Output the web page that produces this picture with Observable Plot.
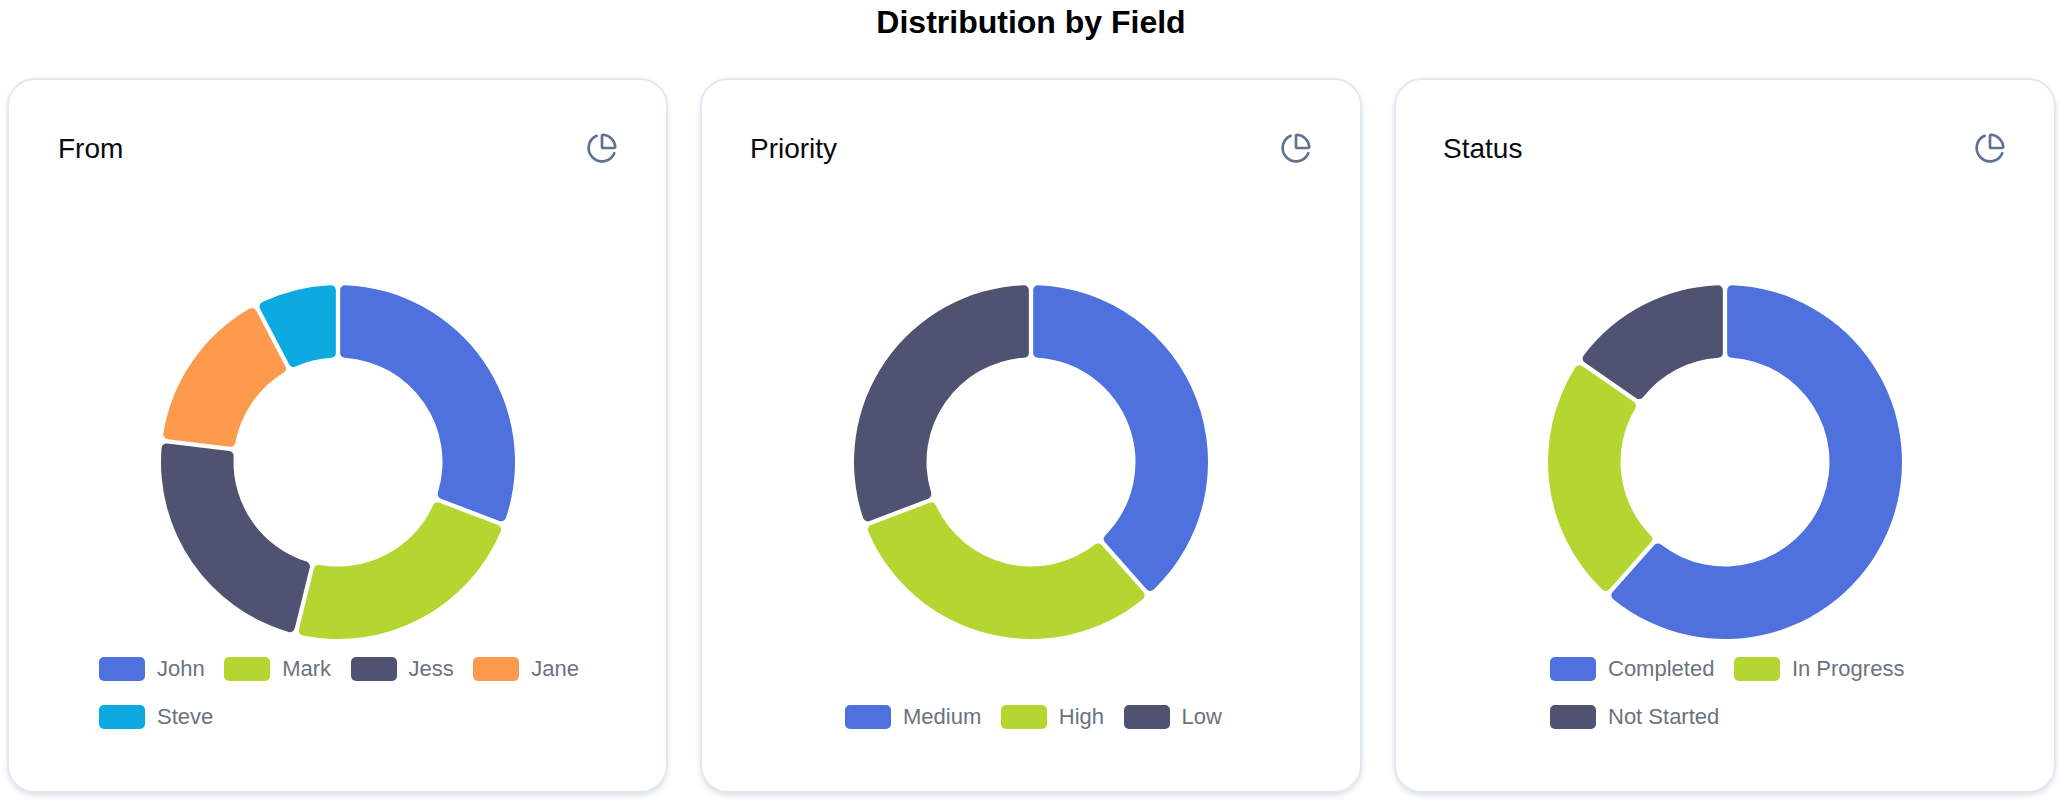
<!DOCTYPE html>
<html>
<head>
<meta charset="utf-8">
<script src="https://cdn.jsdelivr.net/npm/d3@7"></script>
<script src="https://cdn.jsdelivr.net/npm/@observablehq/plot@0.6"></script>
<style>
html,body{margin:0;padding:0;background:#fff;width:2060px;height:802px;overflow:hidden;font-family:"Liberation Sans",Arial,sans-serif}
h1{position:absolute;left:0;width:2062px;top:5px;margin:0;text-align:center;font-size:32px;line-height:34px;font-weight:700;color:#000}
.card{position:absolute;top:78px;height:715px;box-sizing:border-box;background:#fff;border:2px solid #e2e8f0;border-radius:28px;box-shadow:0 3px 5px rgba(148,163,184,.3)}
.name{position:absolute;left:48px;top:52px;font-size:28px;line-height:34px;color:#0a0a14}
.icon{position:absolute;right:48px;top:52px;width:32px;height:32px;fill:none;stroke:#5f7290;stroke-width:2;stroke-linecap:round;stroke-linejoin:round}
.plot{position:absolute;left:0;top:0}
.legend{position:absolute;bottom:62.5px}
.row{display:flex;column-gap:19.5px;height:24px;margin-top:24px;align-items:center}
.item{display:flex;align-items:center;font-size:22px;color:#6b7280;line-height:24px}
.chip{width:46px;height:24px;border-radius:5px;margin-right:12px}
</style>
</head>
<body>
<h1>Distribution by Field</h1>
<script>
const titles = ["From", "Priority", "Status"];
const fromNames = ["John", "Mark", "Jess", "Jane", "Steve"];
const fromValues = [4, 3, 3, 2, 1];
const fromColors = ["#4f71de", "#b5d631", "#505271", "#fe9a4d", "#0daae2"];
const priorityNames = ["Medium", "High", "Low"];
const priorityValues = [5, 4, 4];
const priorityColors = ["#4f71de", "#b5d631", "#505271"];
const statusNames = ["Completed", "In Progress", "Not Started"];
const statusValues = [8, 3, 2];
const statusColors = ["#4f71de", "#b5d631", "#505271"];
const fromRows = [["John", "Mark", "Jess", "Jane"], ["Steve"]];
const priorityRows = [["Medium", "High", "Low"]];
const statusRows = [["Completed", "In Progress"], ["Not Started"]];

const layout = [
  {card: 7, w: 661, centre: 338, legend: 99},
  {card: 700, w: 662, centre: 1031, legend: 845},
  {card: 1394, w: 662, centre: 1725, legend: 1550}
];
const sets = [
  [fromNames, fromValues, fromColors, fromRows],
  [priorityNames, priorityValues, priorityColors, priorityRows],
  [statusNames, statusValues, statusColors, statusRows]
];

function donut(names, values, colors, width, height, cx, cy) {
  const rows = names.map((name, i) => ({name, value: values[i]}));
  return Plot.plot({
    width, height, margin: 0,
    style: {background: "transparent"},
    x: {domain: [0, d3.sum(values)], range: [0, 2 * Math.PI], axis: null},
    y: {axis: null},
    color: {domain: names, range: colors},
    marks: [
      Plot.barX(rows, {
        x: "value", fill: "name",
        render(index, scales, vals) {
          const g = d3.create("svg:g").attr("transform", `translate(${cx},${cy})`);
          const arc = d3.arc().innerRadius(104.5).outerRadius(177)
            .padRadius(177).padAngle(4.3 / 177).cornerRadius(5);
          for (const i of index) {
            g.append("path")
              .attr("fill", vals.fill[i])
              .attr("d", arc({startAngle: vals.x1[i], endAngle: vals.x2[i]}));
          }
          return g.node();
        }
      })
    ]
  });
}

sets.forEach(([names, values, colors, rows], k) => {
  const L = layout[k];
  const card = document.createElement("div");
  card.className = "card";
  card.style.left = L.card + "px";
  card.style.width = L.w + "px";
  const p = donut(names, values, colors, L.w - 4, 709, L.centre - L.card - 2, 462 - 78 - 2);
  p.classList.add("plot");
  card.appendChild(p);
  const t = document.createElement("div");
  t.className = "name"; t.textContent = titles[k];
  t.style.left = (58 + [0, 692, 1385][k] - L.card - 2) + "px";
  card.appendChild(t);
  card.insertAdjacentHTML("beforeend", `<svg class="icon" viewBox="0 0 24 24"><path d="M21 12c.552 0 1.005-.449.95-.998a10 10 0 0 0-8.953-8.951c-.55-.055-.998.398-.998.95v8a1 1 0 0 0 1 1z"/><path d="M21.21 15.89A10 10 0 1 1 8 2.83"/></svg>`);
  const leg = document.createElement("div");
  leg.className = "legend";
  leg.style.left = (L.legend - L.card - 2) + "px";
  rows.forEach(r => {
    const row = document.createElement("div");
    row.className = "row";
    r.forEach(n => {
      const it = document.createElement("div");
      it.className = "item";
      it.innerHTML = `<span class="chip" style="background:${colors[names.indexOf(n)]}"></span>`;
      it.appendChild(document.createTextNode(n));
      row.appendChild(it);
    });
    leg.appendChild(row);
  });
  card.appendChild(leg);
  document.body.appendChild(card);
});
</script>
</body>
</html>
